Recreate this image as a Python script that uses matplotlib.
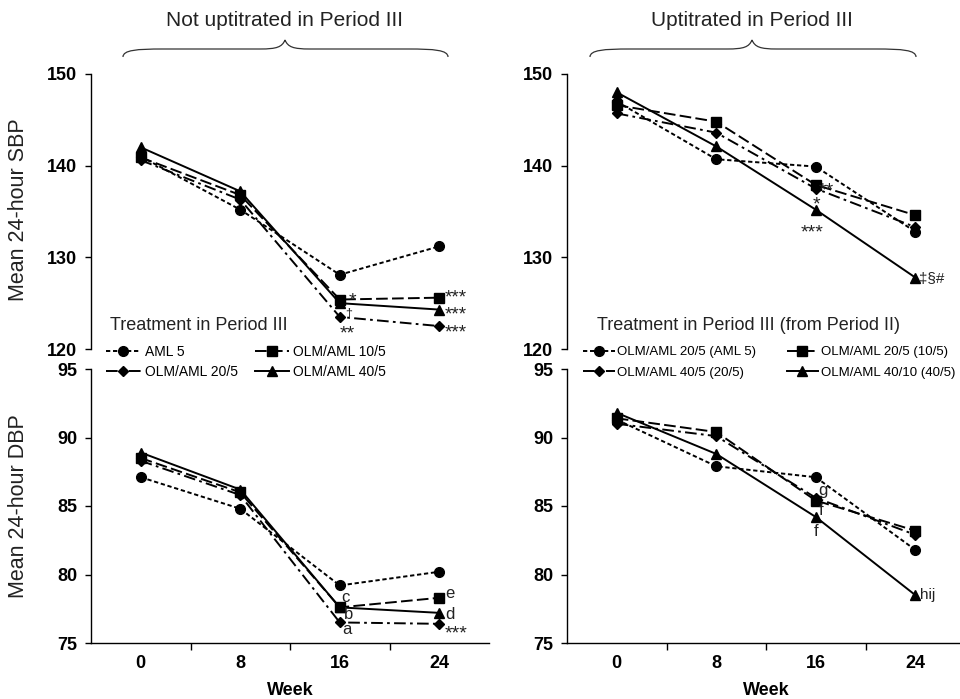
import numpy as np
import matplotlib
matplotlib.use('Agg')
import matplotlib.pyplot as plt
from matplotlib.path import Path
from matplotlib.patches import PathPatch
from matplotlib.transforms import Affine2D

plt.rcParams['font.family'] = ['Liberation Sans', 'DejaVu Sans']

weeks = [0, 8, 16, 24]

# not uptitrated in period III
left_labels = ['AML 5', 'OLM/AML 10/5', 'OLM/AML 20/5', 'OLM/AML 40/5']
left_sbp_aml5 = [141.0, 135.2, 128.1, 131.2]
left_sbp_10_5 = [140.9, 136.8, 125.4, 125.6]
left_sbp_20_5 = [140.6, 136.3, 123.5, 122.5]
left_sbp_40_5 = [142.0, 137.2, 125.0, 124.3]
left_dbp_aml5 = [87.1, 84.8, 79.2, 80.2]
left_dbp_10_5 = [88.5, 86.0, 77.6, 78.3]
left_dbp_20_5 = [88.3, 85.8, 76.5, 76.4]
left_dbp_40_5 = [88.9, 86.2, 77.6, 77.2]

# uptitrated in period III (from period II)
right_labels = ['OLM/AML 20/5 (AML 5)', 'OLM/AML 20/5 (10/5)',
                'OLM/AML 40/5 (20/5)', 'OLM/AML 40/10 (40/5)']
right_sbp_aml5 = [147.0, 140.7, 139.9, 132.8]
right_sbp_10_5 = [146.6, 144.8, 137.9, 134.6]
right_sbp_20_5 = [145.7, 143.6, 137.5, 133.3]
right_sbp_40_5 = [148.0, 142.1, 135.2, 127.8]
right_dbp_aml5 = [91.3, 87.9, 87.1, 81.8]
right_dbp_10_5 = [91.4, 90.4, 85.4, 83.2]
right_dbp_20_5 = [91.0, 90.1, 85.6, 82.9]
right_dbp_40_5 = [91.8, 88.8, 84.2, 78.5]

# significance marks: (series, week index, text)
left_sbp_marks = [(1, 2, '*'), (3, 2, '\u2020'), (2, 2, '**'),
                  (1, 3, '***'), (3, 3, '***'), (2, 3, '***')]
left_dbp_marks = [(1, 2, 'c'), (1, 2, 'b'), (2, 2, 'a'),
                  (1, 3, 'e'), (3, 3, 'd'), (2, 3, '***')]
right_sbp_marks = [(1, 2, '**'), (1, 2, '*'), (3, 2, '***'),
                   (3, 3, '\u2021\u00a7#')]
right_dbp_marks = [(1, 2, 'g'), (1, 2, 'f'), (3, 2, 'f'), (3, 3, 'hij')]

# where each mark sits relative to its point, in pixels (dx, dy up, ha, size)
AST = 14
left_sbp_offsets = [(13, -6, 'center', AST), (9, -13, 'center', 9),
                    (8, -22, 'center', AST), (5, -5, 'left', 13.5),
                    (5, -9.5, 'left', 13.5), (5, -11, 'left', 13.5)]
left_dbp_offsets = [(6, 5, 'center', 12), (9, -11.5, 'center', 12),
                    (7, -11.5, 'center', 12), (6, 0, 'left', 12),
                    (6, -6, 'left', 12), (5, -14.5, 'left', AST)]
right_sbp_offsets = [(11, -10.5, 'center', AST), (1, -24.5, 'center', AST),
                     (-4, -27.5, 'center', AST), (4, -6, 'left', 11)]
right_dbp_offsets = [(7, 6, 'center', 12), (5, -14, 'center', 12),
                     (0, -19, 'center', 12), (5, -4, 'left', 11)]

styles = [dict(marker='o', markersize=7, dashes=(2.2, 1.4)),
          dict(marker='s', markersize=6.5, dashes=(6, 2.2)),
          dict(marker='D', markersize=5.2, dashes=(6, 2.2, 1.4, 2.2)),
          dict(marker='^', markersize=7, linestyle='-')]

W, H = 960, 699
fig = plt.figure(figsize=(W / 100, H / 100), dpi=100)
px = Affine2D().scale(1.0 / W, -1.0 / H).translate(0, 1) + fig.transFigure


def box(x0, y0, x1, y1):
    return [x0 / W, 1 - y1 / H, (x1 - x0) / W, (y1 - y0) / H]


def draw_panel(ax, series, marks, offsets, ylim, yticks):
    xs = np.arange(len(weeks))
    lines = []
    for vals, st in zip(series, styles):
        ln, = ax.plot(xs, vals, color='black', linewidth=1.4,
                      markerfacecolor='black', markeredgecolor='black',
                      clip_on=False, **st)
        lines.append(ln)
    for (si, wi, txt), (dx, dy, ha, fs) in zip(marks, offsets):
        ax.annotate(txt, (xs[wi], series[si][wi]), xytext=(dx * 0.72, dy * 0.72),
                    textcoords='offset points', ha=ha, va='baseline',
                    fontsize=fs, color='#222222')
    ax.set_xlim(-0.5, 3.5)
    ax.set_ylim(*ylim)
    ax.set_yticks(yticks)
    ax.tick_params(axis='y', direction='out', length=4, width=1,
                   labelsize=13, pad=6)
    for lab in ax.get_yticklabels():
        lab.set_fontweight('bold')
    for s in ['top', 'right']:
        ax.spines[s].set_visible(False)
    ax.spines['left'].set_linewidth(1)
    ax.patch.set_alpha(0)
    return lines


def week_axis(ax):
    ax.set_xticks([0.5, 1.5, 2.5])
    ax.set_xticklabels([])
    ax.tick_params(axis='x', direction='out', length=5, width=1)
    ax.set_xticks(np.arange(len(weeks)), minor=True)
    ax.set_xticklabels([str(w) for w in weeks], minor=True,
                       fontsize=13, fontweight='bold')
    ax.tick_params(axis='x', which='minor', length=0, pad=9)
    ax.set_xlabel('Week', fontsize=13, fontweight='bold', labelpad=7)
    ax.spines['bottom'].set_linewidth(1)


def top_axis(ax):
    ax.spines['bottom'].set_visible(False)
    ax.set_xticks([])


def brace(x0, x1, cx, yb):
    verts = [(x0, yb + 8), (x0, yb + 1), (x0 + 14, yb), (x0 + 40, yb),
             (cx - 25, yb),
             (cx - 8, yb), (cx - 3, yb - 2), (cx, yb - 9),
             (cx + 3, yb - 2), (cx + 8, yb), (cx + 25, yb),
             (x1 - 40, yb),
             (x1 - 14, yb), (x1, yb + 1), (x1, yb + 8)]
    codes = [Path.MOVETO, Path.CURVE4, Path.CURVE4, Path.CURVE4,
             Path.LINETO,
             Path.CURVE4, Path.CURVE4, Path.CURVE4,
             Path.CURVE4, Path.CURVE4, Path.CURVE4,
             Path.LINETO,
             Path.CURVE4, Path.CURVE4, Path.CURVE4]
    fig.patches.append(PathPatch(Path(verts, codes), transform=px,
                                 facecolor='none', edgecolor='#333333',
                                 linewidth=0.9))


ax_tl = fig.add_axes(box(91, 74, 489, 349))
ax_bl = fig.add_axes(box(91, 369, 489, 643))
ax_tr = fig.add_axes(box(567, 74, 965, 349))
ax_br = fig.add_axes(box(567, 369, 965, 643))

lines_l = draw_panel(ax_tl, [left_sbp_aml5, left_sbp_10_5, left_sbp_20_5, left_sbp_40_5],
                     left_sbp_marks, left_sbp_offsets, (120, 150), [120, 130, 140, 150])
draw_panel(ax_bl, [left_dbp_aml5, left_dbp_10_5, left_dbp_20_5, left_dbp_40_5],
           left_dbp_marks, left_dbp_offsets, (75, 95), [75, 80, 85, 90, 95])
lines_r = draw_panel(ax_tr, [right_sbp_aml5, right_sbp_10_5, right_sbp_20_5, right_sbp_40_5],
                     right_sbp_marks, right_sbp_offsets, (120, 150), [120, 130, 140, 150])
draw_panel(ax_br, [right_dbp_aml5, right_dbp_10_5, right_dbp_20_5, right_dbp_40_5],
           right_dbp_marks, right_dbp_offsets, (75, 95), [75, 80, 85, 90, 95])

top_axis(ax_tl)
top_axis(ax_tr)
week_axis(ax_bl)
week_axis(ax_br)

fig.text(19 / W, 1 - 210 / H, 'Mean 24-hour SBP', rotation=90, ha='center',
         va='center', fontsize=15.5, color='#222222')
fig.text(19 / W, 1 - 506 / H, 'Mean 24-hour DBP', rotation=90, ha='center',
         va='center', fontsize=15.5, color='#222222')

fig.text(285 / W, 1 - 20 / H, 'Not uptitrated in Period III', ha='center',
         va='center', fontsize=15, color='#222222')
fig.text(752 / W, 1 - 20 / H, 'Uptitrated in Period III', ha='center',
         va='center', fontsize=15, color='#222222')
brace(123, 448, 285, 49)
brace(590, 916, 752, 49)

fig.text(110 / W, 1 - 325 / H, 'Treatment in Period III', ha='left',
         va='center', fontsize=13, color='#222222')
fig.text(597 / W, 1 - 325 / H, 'Treatment in Period III (from Period II)',
         ha='left', va='center', fontsize=13, color='#222222')

order = [0, 2, 1, 3]
leg_l = fig.legend([lines_l[i] for i in order], [left_labels[i] for i in order],
                   ncol=2, loc='upper left', bbox_to_anchor=(106 / W, 1 - 345 / H),
                   frameon=False, fontsize=10,
                   handlelength=2.5, handletextpad=0.3, columnspacing=1.2,
                   labelspacing=0.4, borderpad=0, borderaxespad=0)
leg_r = fig.legend([lines_r[i] for i in order], [right_labels[i] for i in order],
                   ncol=2, loc='upper left', bbox_to_anchor=(583 / W, 1 - 346 / H),
                   frameon=False, fontsize=9.5,
                   handlelength=2.4, handletextpad=0.2, columnspacing=2.3,
                   labelspacing=0.62, borderpad=0, borderaxespad=0)

fig.savefig('out.png', dpi=100)
